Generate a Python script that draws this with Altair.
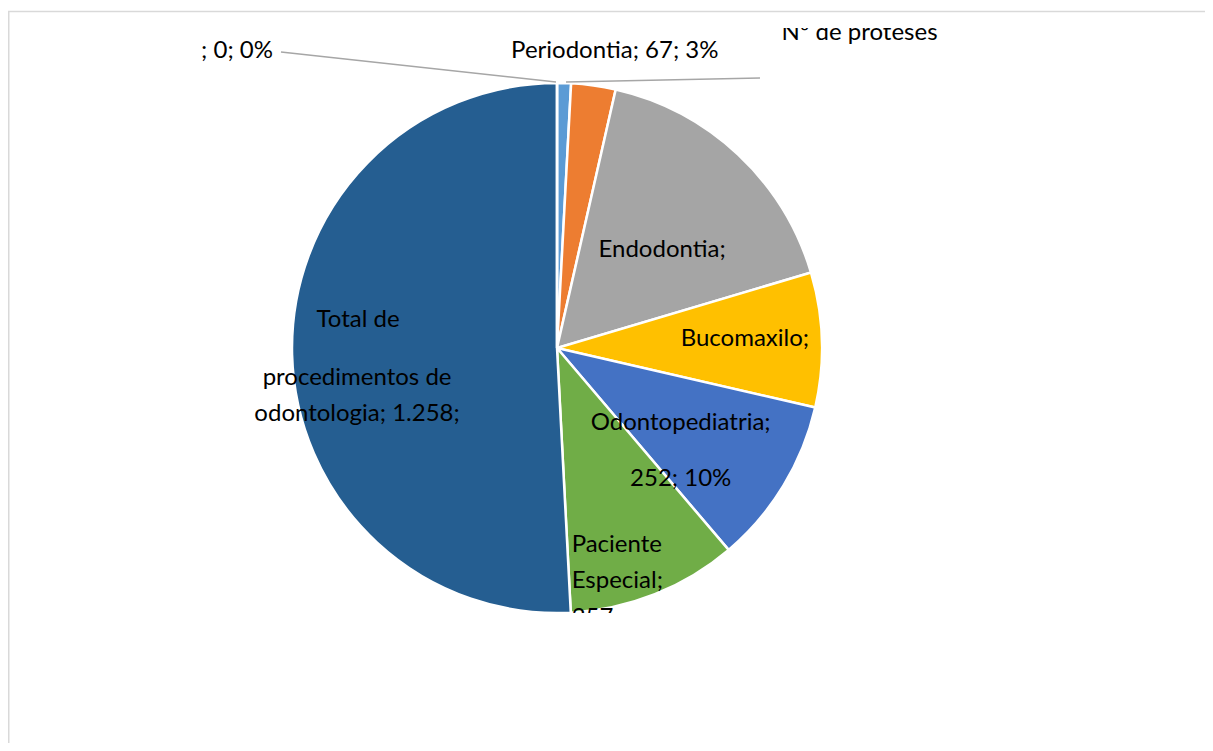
import altair as alt
import pandas as pd

# ---- data (clockwise from 12 o'clock) ----
categories = ["Nº de proteses", "Periodontia", "Endodontia", "Bucomaxilo",
              "Odontopediatria", "Paciente Especial",
              "Total de procedimentos de odontologia", ""]
values = [21, 67, 417, 203, 252, 257, 1258, 0]
colors = ["#5B9BD5", "#ED7D31", "#A5A5A5", "#FFC000", "#4472C4", "#70AD47",
          "#255E91", "#9E480E"]
labels = [["Nº de proteses"], ["Periodontia; 67; 3%"], ["Endodontia;"], ["Bucomaxilo;"],
          ["Odontopediatria;", "252; 10%"], ["Paciente", "Especial;", "257"],
          ["Total de", "procedimentos de", "odontologia; 1.258;"], ["; 0; 0%"]]

# ---- layout ----
FONT = "Lato"
FS = 24
PAD_L, PAD_T, PAD_R, PAD_B = 4, 20, 3, 130
W, H = 1190, 585


def px(x):
    return x - 8 - PAD_L


def py(y):
    return y - 8 - PAD_T


CX, CY, R = px(557), py(348), 265

df = pd.DataFrame({"cat": categories, "value": values,
                   "idx": list(range(len(categories))), "label": labels})
base = alt.Chart(df)

pie = base.mark_arc(radius=R, stroke="white", strokeWidth=2.5).encode(
    theta=alt.Theta("value:Q", stack=True),
    order=alt.Order("idx:Q", sort="ascending"),
    color=alt.Color("cat:N", scale=alt.Scale(domain=categories, range=colors), legend=None),
    x=alt.value(CX), y=alt.value(CY),
)


def label(cat, radius, dx, dy, align="center", expr="datum.label", line_height=None, clip=False):
    props = dict(radius=radius, dx=dx, dy=dy, align=align, baseline="middle",
                 font=FONT, fontSize=FS, color="#000000", clip=clip)
    if line_height is not None:
        props["lineHeight"] = line_height
    return base.transform_window(
        cum="sum(value)", sort=[alt.SortField("idx", order="ascending")], frame=[None, 0]
    ).transform_calculate(
        mid="datum.cum - datum.value / 2", txt=expr
    ).transform_filter(
        alt.datum.cat == cat
    ).mark_text(**props).encode(
        theta=alt.Theta("mid:Q", stack=None),
        text=alt.Text("txt:N"),
        x=alt.value(CX), y=alt.value(CY),
    )


texts = [
    label("Periodontia", 303, 16, 3),
    label("Endodontia", 145, 6, 8),
    label("Bucomaxilo", 188, 0, -3),
    label("Odontopediatria", 160, -13, -8, line_height=55.5),
    label("Paciente Especial", 240, -74, -26.5, align="left", line_height=36.5, clip=True),
    label("Total de procedimentos de odontologia", 200, 1, -33, expr="datum.label[0]"),
    label("Total de procedimentos de odontologia", 200, 0, 25,
          expr="slice(datum.label, 1)", line_height=36),
    label("", 300, -284, 3, align="right"),
    label("Nº de proteses", 315, 216, 0, align="left", clip=True),
]

dummy = pd.DataFrame({"k": [0]})


def line(x1, y1, x2, y2, color, width):
    return alt.Chart(dummy).mark_rule(color=color, strokeWidth=width).encode(
        x=alt.value(x1), x2=alt.value(x2), y=alt.value(y1), y2=alt.value(y2))


border_top = line(px(8), py(11.5), W + PAD_R, py(11.5), "#d9d9d9", 1.5)
border_left = line(px(8.75), py(11.5), px(8.75), H + PAD_B, "#d9d9d9", 1.5)
leader1 = line(px(281), py(52), px(556), py(82), "#a6a6a6", 1.5)
leader2 = line(px(760), py(78), px(566), py(82), "#a6a6a6", 1.5)

chart = alt.layer(border_top, border_left, pie, leader1, leader2, *texts).properties(
    width=W, height=H,
    padding={"left": PAD_L, "top": PAD_T, "right": PAD_R, "bottom": PAD_B},
    autosize=alt.AutoSizeParams(type="none"),
    background="white",
).configure_view(stroke=None)

chart.save("out.html", embed_options={"renderer": "svg", "actions": False})
